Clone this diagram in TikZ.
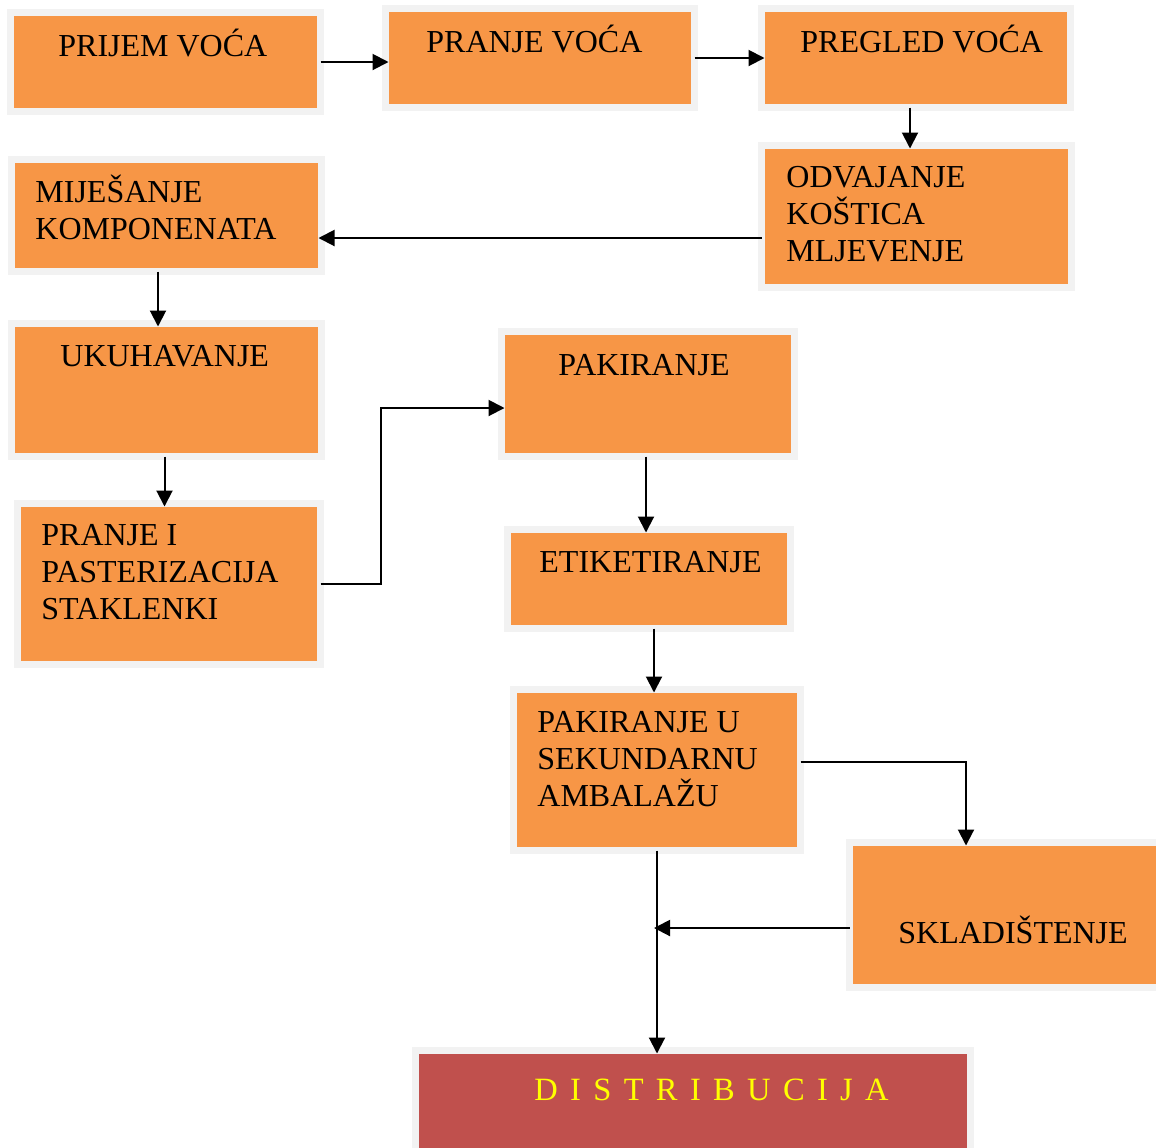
\documentclass[tikz,border=0pt]{standalone}
\usepackage{fontspec}
\setmainfont{Liberation Serif}
\usepackage{xcolor}
\usetikzlibrary{arrows.meta, calc}

\definecolor{stepfill}{HTML}{F79646}
\definecolor{stepedge}{HTML}{F2F2F2}
\definecolor{endfill}{HTML}{C0504D}
\definecolor{endtext}{HTML}{FFFF00}

\tikzset{
  stepbox/.style={draw=stepedge, fill=stepfill, line width=3.5pt, rectangle, inner sep=0pt, outer sep=0pt},
  endbox/.style={stepbox, fill=endfill},
  steptext/.style={anchor=base west, inner sep=0pt, align=left, font=\fontsize{16pt}{18.5pt}\selectfont},
  flow/.style={line width=1pt, shorten >=-1.5pt, -{Triangle[length=8pt,width=8pt]}},
}

\begin{document}
\begin{tikzpicture}[x=0.5pt, y=-0.5pt]
        \useasboundingbox (0,0) rectangle (1156,1147);

        % Process steps
        \node[stepbox, minimum width=155pt, minimum height=49.5pt] (prijem) at (165.5,62) {};
        \node[stepbox, minimum width=154.5pt, minimum height=49.5pt] (pranje) at (540,58) {};
        \node[stepbox, minimum width=154.5pt, minimum height=49.5pt] (pregled) at (916,58) {};
        \node[stepbox, minimum width=155pt, minimum height=71pt] (odvajanje) at (916.5,216.5) {};
        \node[stepbox, minimum width=155pt, minimum height=56pt] (mijesanje) at (166.5,215.5) {};
        \node[stepbox, minimum width=155pt, minimum height=66.5pt] (ukuhavanje) at (166.5,390) {};
        \node[stepbox, minimum width=151.5pt, minimum height=80.5pt] (pasterizacija) at (169,584) {};
        \node[stepbox, minimum width=146.5pt, minimum height=62.5pt] (pakiranje) at (648,394) {};
        \node[stepbox, minimum width=141.5pt, minimum height=49.5pt] (etiketiranje) at (649,579) {};
        \node[stepbox, minimum width=143.5pt, minimum height=80.5pt] (sekundarna) at (657,770) {};
        \node[stepbox, minimum width=158.5pt, minimum height=72.5pt] (skladistenje) at (1008,915) {};
        \node[endbox, minimum width=277.5pt, minimum height=51.5pt] (distribucija) at (693,1102) {};

        % Step labels (base = last line)
        \node[steptext] (prijemtxt) at (58,56) {PRIJEM VOĆA};
        \node[steptext] (pranjetxt) at (426,52) {PRANJE VOĆA};
        \node[steptext] (pregledtxt) at (800,52) {PREGLED VOĆA};
        \node[steptext] (odvajanjetxt) at (786,261) {ODVAJANJE\\KOŠTICA\\MLJEVENJE};
        \node[steptext] (mijesanjetxt) at (35,239) {MIJEŠANJE\\KOMPONENATA};
        \node[steptext] (ukuhavanjetxt) at (60,366) {UKUHAVANJE};
        \node[steptext] (pasterizacijatxt) at (41,619) {PRANJE I\\PASTERIZACIJA\\STAKLENKI};
        \node[steptext] (pakiranjetxt) at (558,375) {PAKIRANJE};
        \node[steptext] (etiketiranjetxt) at (539,572) {ETIKETIRANJE};
        \node[steptext] (sekundarnatxt) at (537,806) {PAKIRANJE U\\SEKUNDARNU\\AMBALAŽU};
        \node[steptext] (skladistenjetxt) at (898,943) {SKLADIŠTENJE};
        \node[steptext, text=endtext, font=\fontsize{16.25pt}{18.5pt}\selectfont\addfontfeatures{LetterSpace=38}] (distribucijatxt) at (534,1100) {DISTRIBUCIJA};

        % Flow
        \draw[flow] (prijem.east) -- (prijem.east -| pranje.west);
        \draw[flow] (pranje.east) -- (pranje.east -| pregled.west);
        \draw[flow] ([xshift=-3pt]pregled.south) -- ([xshift=-3pt]pregled.south |- odvajanje.north);
        \draw[flow] ([yshift=-10.75pt]odvajanje.west) -- ([yshift=-10.75pt]odvajanje.west -| mijesanje.east);
        \draw[flow] ([xshift=-4.25pt]mijesanje.south) -- ([xshift=-4.25pt]mijesanje.south |- ukuhavanje.north);
        \draw[flow] ([xshift=-1pt]ukuhavanje.south) -- ([xshift=-1pt]ukuhavanje.south |- pasterizacija.north);
        \coordinate (bend) at (381,408);
        \draw[flow] (pasterizacija.east) -| (bend) -- (bend -| pakiranje.west);
        \draw[flow] ([xshift=-1pt]pakiranje.south) -- ([xshift=-1pt]pakiranje.south |- etiketiranje.north);
        \draw[flow] ([xshift=2.5pt]etiketiranje.south) -- ([xshift=2.5pt]etiketiranje.south |- sekundarna.north);
        \draw[flow] ([yshift=4pt]sekundarna.east) -| ([xshift=-21pt]skladistenje.north);
        \draw[flow] (sekundarna.south) -- (sekundarna.south |- distribucija.north);
        \draw[flow] ([yshift=-6.5pt]skladistenje.west) -- ([yshift=-6.5pt]skladistenje.west -| sekundarna.south);

    \end{tikzpicture}
\end{document}
